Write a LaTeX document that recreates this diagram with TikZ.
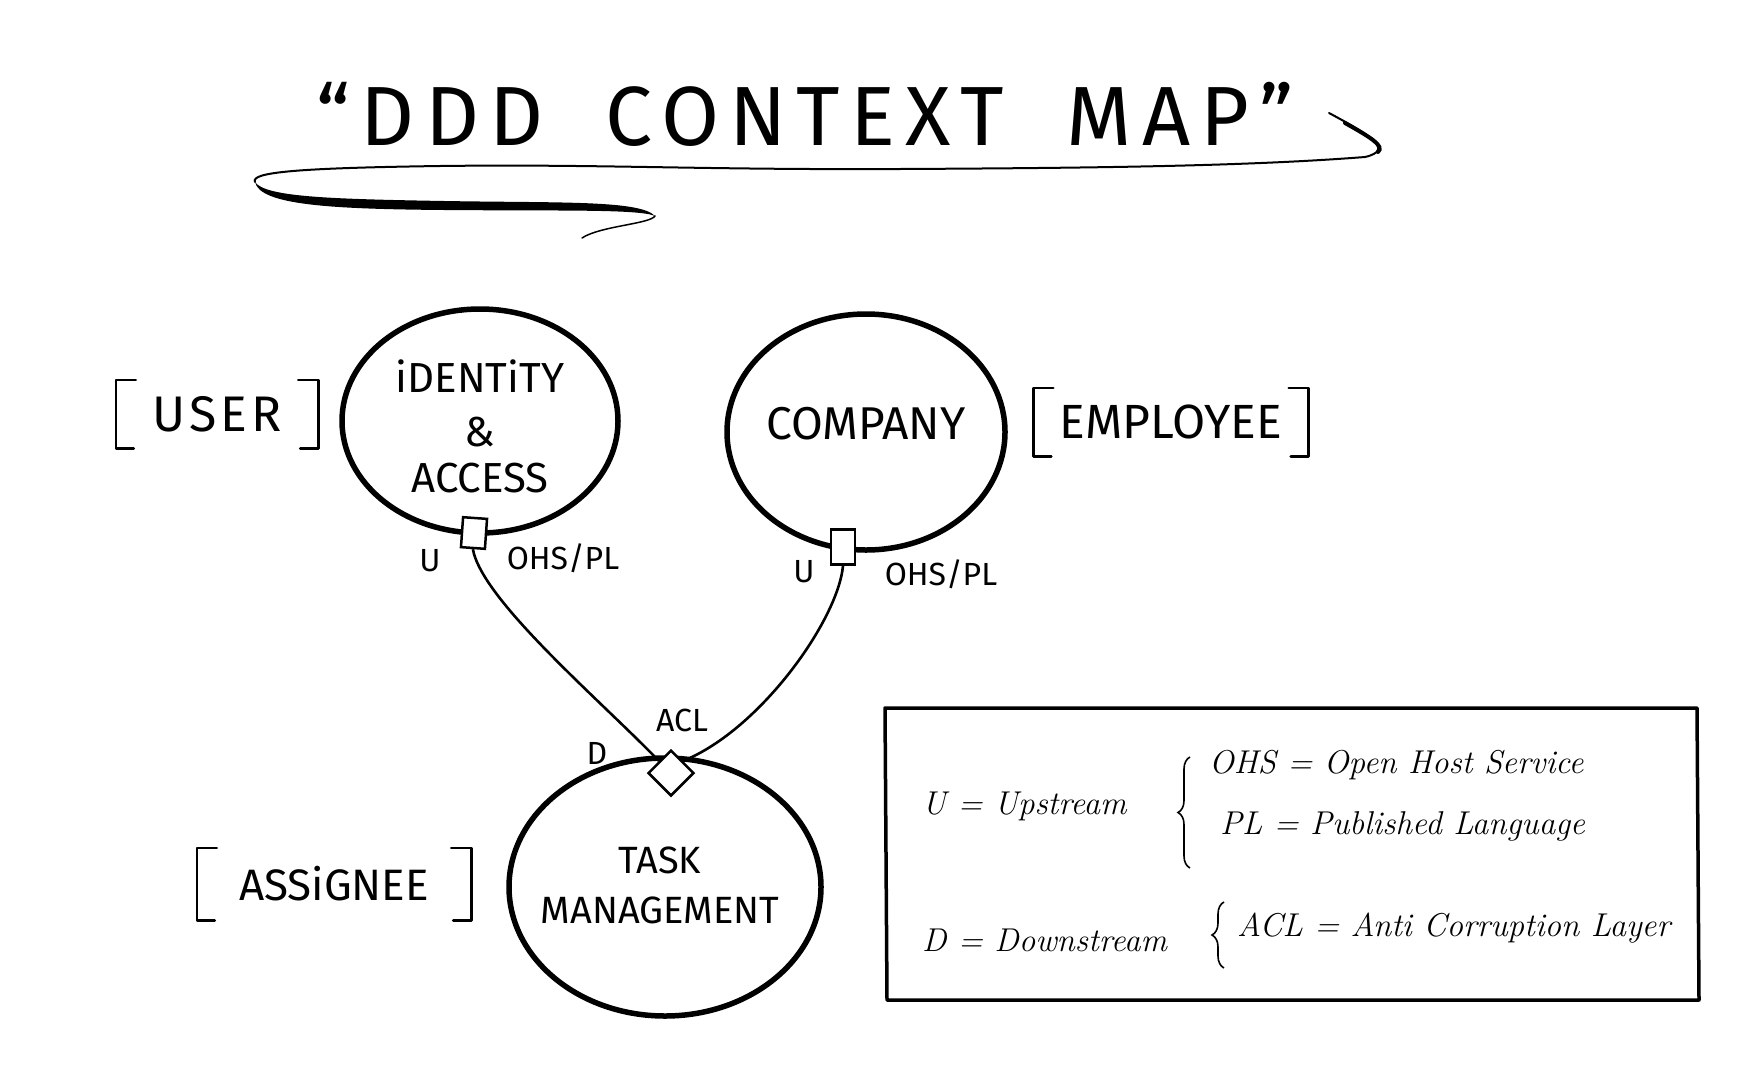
\documentclass[tikz,border=0pt]{standalone}
\usepackage{fontspec}
\newfontfamily\caps{Fira Sans}
\newfontfamily\titlefont[LetterSpace=12]{Fira Sans}
\newfontfamily\spaced[LetterSpace=8]{Fira Sans}
\usetikzlibrary{shapes.geometric,decorations.pathreplacing}
\begin{document}
\begin{tikzpicture}[x=1pt,y=-1pt,
  ctx/.style={ellipse, draw, line width=5.5pt, inner sep=0pt},
  ctxtext/.style={inner sep=0pt, align=center},
  port/.style={draw, fill=white, line width=2.5pt, inner sep=0pt},
  lbl/.style={font=\caps\fontsize{32}{34}\selectfont, inner sep=0pt},
  ent/.style={inner sep=0pt},
  brk/.style={line width=2.6pt, line join=round, line cap=round},
  conn/.style={line width=2.6pt},
  leg/.style={font=\itshape\fontsize{33}{40}\selectfont, anchor=west, inner sep=0pt},
  legbrace/.style={decorate, decoration={brace, amplitude=12pt}, line width=1.6pt}
]
\useasboundingbox (0,0) rectangle (1739,1071);
\fill[white] (0,0) rectangle (1739,1071);

% title
\node[anchor=base, inner sep=0pt, font=\titlefont\fontsize{84}{90}\selectfont] (title) at (805,145) {“DDD\hspace{30pt} CONTEXT\hspace{30pt} MAP”};
% swoosh
\draw[line width=2pt, line cap=round] (1329,113) .. controls (1370,135) and (1395,150) .. (1365,157)
  .. controls (1250,166) and (1100,168) .. (900,169)
  .. controls (700,170) and (600,164) .. (440,166)
  .. controls (300,168) and (250,172) .. (255,182);
\draw[line width=4pt, line cap=round] (1345,123) .. controls (1370,137) and (1385,146) .. (1378,152);
\fill (255,182) .. controls (265,197) and (330,199) .. (444,201) .. controls (560,203) and (640,200) .. (655,216)
  .. controls (640,209) and (560,211) .. (444,210) .. controls (330,209) and (260,205) .. (255,182) -- cycle;
\draw[line width=1.5pt, line cap=round] (655,216) .. controls (650,224) and (600,226) .. (582,238);

% contexts
\node[ctx, minimum width=276, minimum height=224] (ia) at (480,421) {};
\node[ctxtext, font=\caps\fontsize{42}{46}\selectfont] (iatext) at (480,426) {iDENTiTY\\[8pt]\&\\ACCESS};
\node[ctx, minimum width=278, minimum height=236] (co) at (866,432) {};
\node[ctxtext, font=\caps\fontsize{46}{50}\selectfont] (cotext) at (866,424) {COMPANY};
\node[ctx, minimum width=312, minimum height=258] (tm) at (665,887) {};
\node[ctxtext, font=\caps\fontsize{38}{50}\selectfont] (tmtext) at (660,885) {TASK\\MANAGEMENT};

% ports
\node[port, minimum width=24, minimum height=30, rotate=-4] (pia) at (474,533) {};
\node[port, minimum width=24, minimum height=35] (pco) at (843,547) {};
\node[port, diamond, minimum width=46, minimum height=46] (acl) at (671,773) {};

% connectors
\draw[conn] (pia.south) .. controls (482,600) and (600,700) .. (acl.north west);
\draw[conn] (pco.south) .. controls (838,620) and (760,730) .. (acl.north east);

% port labels
\node[lbl] (uia) at (430,561) {U};
\node[lbl] (ohsia) at (563,558) {OHS/PL};
\node[lbl] (uco) at (804,572) {U};
\node[lbl] (ohsco) at (941,574) {OHS/PL};
\node[lbl] (dtm) at (597,753) {D};
\node[lbl] (acltm) at (682,720) {ACL};

% entities in brackets
\node[ent, minimum width=202, minimum height=68, font=\spaced\fontsize{50}{54}\selectfont] (user) at (217,414) {USER};
\node[ent, minimum width=275, minimum height=68, font=\caps\fontsize{48}{54}\selectfont] (emp) at (1171,422) {EMPLOYEE};
\node[ent, minimum width=274, minimum height=72, font=\caps\fontsize{44}{50}\selectfont] (asg) at (334,884) {ASSiGNEE};
\foreach \n in {user,emp,asg}{
  \draw[brk] ([xshift=20pt]\n.north west) -- (\n.north west) -- (\n.south west) -- ([xshift=18pt]\n.south west);
  \draw[brk] ([xshift=-20pt]\n.north east) -- (\n.north east) -- (\n.south east) -- ([xshift=-18pt]\n.south east);
}

% legend
\draw[line width=3.5pt, line join=round] (885,708) -- (1697,708) -- (1699,1000) -- (887,1000) -- cycle;
\node[leg] (lu) at (922,806) {U = Upstream};
\draw[legbrace] (1190,868) -- (1190,757);
\node[leg] (lohs) at (1209,765) {OHS = Open Host Service};
\node[leg] (lpl) at (1220,826) {PL = Published Language};
\node[leg] (ld) at (922,940) {D = Downstream};
\draw[legbrace] (1224,968) -- (1224,902);
\node[leg] (lacl) at (1237,928) {ACL = Anti Corruption Layer};
\end{tikzpicture}
\end{document}
